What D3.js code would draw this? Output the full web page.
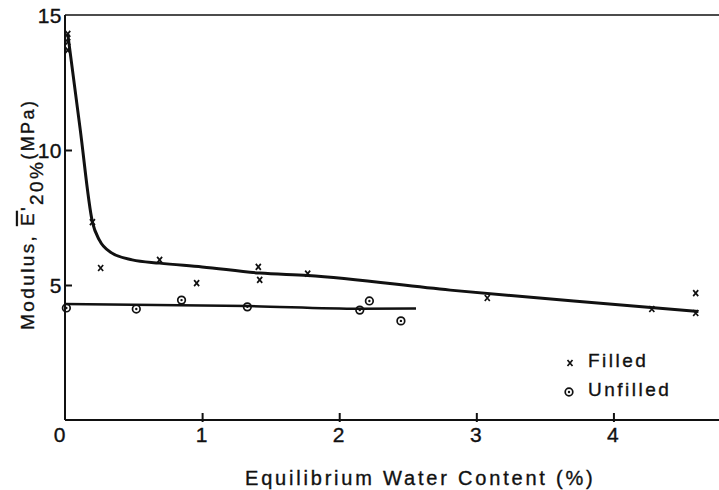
<!DOCTYPE html>
<html><head><meta charset="utf-8">
<script src="https://cdn.jsdelivr.net/npm/d3@7"></script>
<style>body{margin:0;background:#fff}svg{display:block}text{font-family:"Liberation Sans",Arial,sans-serif;fill:#111;stroke:#111;stroke-width:0.35}</style>
</head><body>
<script>
const filledX = [0.02,0.02,0.02,0.2,0.26,0.69,0.96,1.41,1.42,1.77,3.08,4.28,4.6,4.6];
const filledY = [14.3,14.0,13.7,7.33,5.63,5.93,5.07,5.67,5.19,5.42,4.52,4.11,4.7,3.96];
const unfilledX = [0.01,0.52,0.85,1.33,2.15,2.22,2.45];
const unfilledY = [4.15,4.11,4.44,4.19,4.07,4.41,3.67];
const filledFitX = [0.02,0.11,0.2,0.25,0.34,0.49,0.69,1.0,1.42,1.77,2.81,3.71,4.62];
const filledFitY = [14.3,10.8,7.33,6.67,6.19,5.93,5.81,5.67,5.44,5.35,4.81,4.41,4.02];
const unfilledFitX = [0,1.33,2.15,2.56];
const unfilledFitY = [4.3,4.22,4.12,4.13];
const xTicks = [0,1,2,3,4];
const yTicks = [5,10,15];

const W=719,H=490;
const svg=d3.select("body").append("svg").attr("width",W).attr("height",H);
const x=d3.scaleLinear().domain([0,4.77]).range([65,719]);
const y=d3.scaleLinear().domain([0,15]).range([420,15]);
const ink="#111";

// top frame line
svg.append("line").attr("x1",x(0)).attr("x2",W).attr("y1",y(15)).attr("y2",y(15)).attr("stroke",ink).attr("stroke-width",1.6);
// x axis
const gx=svg.append("g").attr("transform",`translate(0,${y(0)})`)
  .call(d3.axisBottom(x).tickValues(xTicks).tickSize(-6).tickPadding(10).tickFormat(d3.format("d")));
gx.select(".domain").attr("d",`M${x(0)},0H${W}`).attr("stroke",ink).attr("stroke-width",2);
gx.selectAll(".tick line").attr("stroke",ink).attr("stroke-width",2).attr("y2",-7).attr("y1",2);
gx.selectAll(".tick text").attr("font-size",21).attr("fill",ink).attr("dy",null).attr("y",22)
  .attr("dx",d=>d===0?-6:-1);
gx.selectAll(".tick").filter(d=>d===0).select("line").remove();
// y axis
const gy=svg.append("g").attr("transform",`translate(${x(0)},0)`)
  .call(d3.axisLeft(y).tickValues(yTicks).tickSize(-7).tickPadding(0).tickFormat(d3.format("d")));
gy.select(".domain").attr("d",`M0,${y(15)}V${y(0)}`).attr("stroke",ink).attr("stroke-width",2);
gy.selectAll(".tick line").attr("stroke",ink).attr("stroke-width",2);
gy.selectAll(".tick").filter(d=>d===15).select("line").remove();
gy.selectAll(".tick text").attr("font-size",21).attr("fill",ink).attr("x",-3).attr("dy","0.36em").attr("letter-spacing",0.5);

// fits
const line=d3.line().x(d=>x(d[0])).y(d=>y(d[1])).curve(d3.curveMonotoneX);
svg.append("path").datum(filledFitX.map((v,i)=>[v,filledFitY[i]]))
  .attr("d",line).attr("fill","none").attr("stroke",ink).attr("stroke-width",3);
svg.append("path").datum(unfilledFitX.map((v,i)=>[v,unfilledFitY[i]]))
  .attr("d",line).attr("fill","none").attr("stroke",ink).attr("stroke-width",2.5);

function cross(g,cx,cy){
  g.append("path").attr("d",`M${cx-2.5},${cy-3}L${cx+2.5},${cy+3}M${cx+2.5},${cy-3}L${cx-2.5},${cy+3}`)
   .attr("stroke",ink).attr("stroke-width",1.7).attr("fill","none");
}
function ring(g,cx,cy){
  g.append("circle").attr("cx",cx).attr("cy",cy).attr("r",3.8).attr("fill","none").attr("stroke",ink).attr("stroke-width",1.7);
  g.append("circle").attr("cx",cx).attr("cy",cy).attr("r",1.2).attr("fill",ink);
}
const pts=svg.append("g");
filledX.forEach((v,i)=>cross(pts,x(v),y(filledY[i])));
unfilledX.forEach((v,i)=>ring(pts,x(v),y(unfilledY[i])));

// legend
const lg=svg.append("g");
cross(lg,570,363);
ring(lg,569,392);
lg.append("text").attr("x",588).attr("y",367).attr("font-size",19).attr("letter-spacing",2.5).text("Filled");
lg.append("text").attr("x",588).attr("y",396).attr("font-size",19).attr("letter-spacing",2.5).text("Unfilled");

// x title
svg.append("text").attr("x",245).attr("y",485).attr("font-size",20).attr("letter-spacing",2.8)
  .text("Equilibrium Water Content (%)");

// y title
const yt=svg.append("text").attr("transform","translate(34,330) rotate(-90)").attr("font-size",19).attr("letter-spacing",2.4);
yt.append("tspan").text("Modulus, ");
yt.append("tspan").attr("text-decoration","overline").text("E");
yt.append("tspan").text("'");
yt.append("tspan").attr("dy",9).text("20%");
yt.append("tspan").attr("dy",-9).attr("font-size",18).text("(MPa)");
</script>
</body></html>
